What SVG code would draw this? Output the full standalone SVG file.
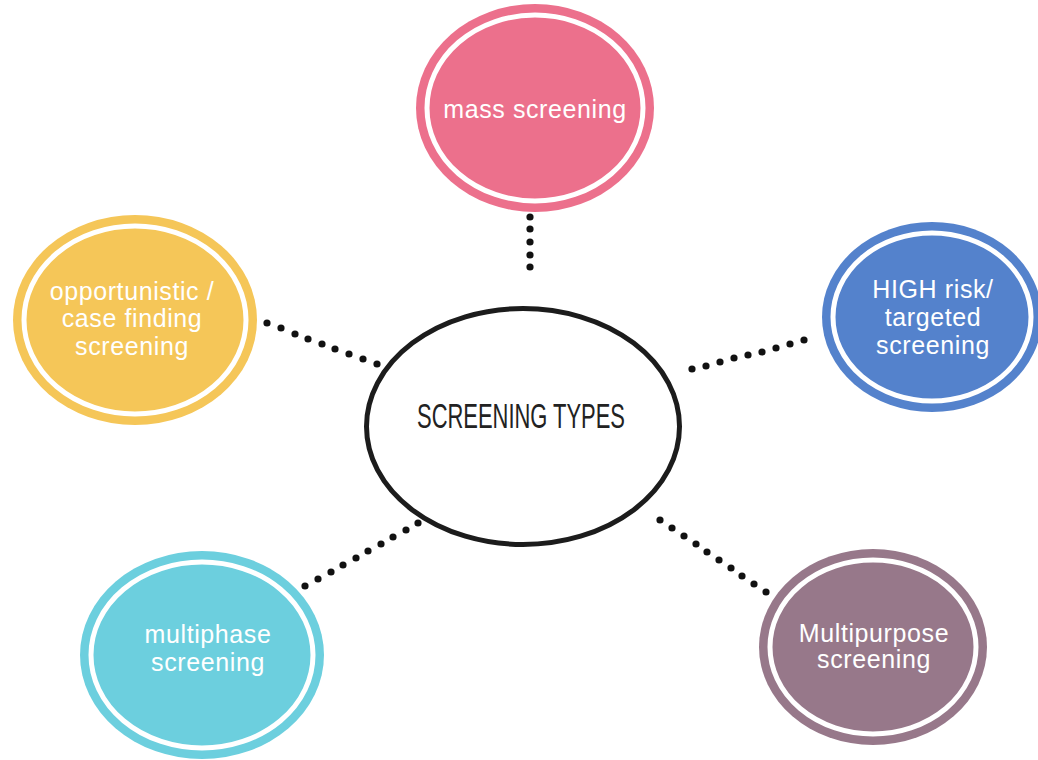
<svg xmlns="http://www.w3.org/2000/svg" width="1038" height="760" viewBox="0 0 1038 760">
  <style>
    .ring { fill: none; stroke: #ffffff; stroke-width: 5; }
    .label { font-family: "Liberation Sans", Arial, sans-serif; font-size: 25px; fill: #ffffff; text-anchor: middle; letter-spacing: 0.6px; }
    .title { font-family: "Liberation Sans", Arial, sans-serif; font-size: 35px; fill: #222222; }
    .dot { fill: #111111; }
  </style>
  <rect width="1038" height="760" fill="#ffffff"/>

  <!-- dotted connectors -->
  <g id="connectors">
    <!-- centre to mass screening -->
    <circle class="dot" cx="530" cy="217" r="3.6"/>
    <circle class="dot" cx="530" cy="229" r="3.6"/>
    <circle class="dot" cx="530" cy="242" r="3.6"/>
    <circle class="dot" cx="530" cy="255" r="3.6"/>
    <circle class="dot" cx="530" cy="267" r="3.6"/>
    <!-- centre to opportunistic -->
    <circle class="dot" cx="267" cy="323" r="3.6"/>
    <circle class="dot" cx="281" cy="328" r="3.6"/>
    <circle class="dot" cx="295" cy="334" r="3.6"/>
    <circle class="dot" cx="308" cy="339" r="3.6"/>
    <circle class="dot" cx="322" cy="344" r="3.6"/>
    <circle class="dot" cx="335" cy="349" r="3.6"/>
    <circle class="dot" cx="349" cy="354" r="3.6"/>
    <circle class="dot" cx="363" cy="359" r="3.6"/>
    <circle class="dot" cx="377" cy="364" r="3.6"/>
    <!-- centre to high risk -->
    <circle class="dot" cx="804" cy="340" r="3.6"/>
    <circle class="dot" cx="790" cy="344" r="3.6"/>
    <circle class="dot" cx="776" cy="348" r="3.6"/>
    <circle class="dot" cx="762" cy="352" r="3.6"/>
    <circle class="dot" cx="748" cy="355" r="3.6"/>
    <circle class="dot" cx="734" cy="358" r="3.6"/>
    <circle class="dot" cx="720" cy="362" r="3.6"/>
    <circle class="dot" cx="706" cy="366" r="3.6"/>
    <circle class="dot" cx="692" cy="369" r="3.6"/>
    <!-- centre to multiphase -->
    <circle class="dot" cx="305" cy="586" r="3.6"/>
    <circle class="dot" cx="318" cy="579" r="3.6"/>
    <circle class="dot" cx="331" cy="572" r="3.6"/>
    <circle class="dot" cx="343" cy="565" r="3.6"/>
    <circle class="dot" cx="356" cy="558" r="3.6"/>
    <circle class="dot" cx="368" cy="551" r="3.6"/>
    <circle class="dot" cx="381" cy="544" r="3.6"/>
    <circle class="dot" cx="393" cy="537" r="3.6"/>
    <circle class="dot" cx="406" cy="530" r="3.6"/>
    <circle class="dot" cx="418" cy="523" r="3.6"/>
    <!-- centre to multipurpose -->
    <circle class="dot" cx="660" cy="520" r="3.6"/>
    <circle class="dot" cx="672" cy="528" r="3.6"/>
    <circle class="dot" cx="684" cy="536" r="3.6"/>
    <circle class="dot" cx="696" cy="544" r="3.6"/>
    <circle class="dot" cx="707" cy="552" r="3.6"/>
    <circle class="dot" cx="719" cy="560" r="3.6"/>
    <circle class="dot" cx="731" cy="568" r="3.6"/>
    <circle class="dot" cx="742" cy="576" r="3.6"/>
    <circle class="dot" cx="754" cy="584" r="3.6"/>
    <circle class="dot" cx="766" cy="592" r="3.6"/>
  </g>

  <!-- central hub -->
  <g id="screening-types">
    <ellipse cx="523" cy="426.5" rx="156.5" ry="118" fill="#ffffff" stroke="#1c1c1c" stroke-width="5"/>
    <text class="title" x="417" y="428" textLength="208" lengthAdjust="spacingAndGlyphs">SCREENING TYPES</text>
  </g>

  <g id="mass-screening">
    <ellipse cx="535" cy="108" rx="119" ry="104" fill="#EC708C"/>
    <ellipse class="ring" cx="535" cy="108" rx="108" ry="93"/>
    <text class="label" x="535" y="118">mass screening</text>
  </g>

  <g id="opportunistic-screening">
    <ellipse cx="135" cy="320" rx="122" ry="105" fill="#F5C658"/>
    <ellipse class="ring" cx="135" cy="320" rx="111" ry="94"/>
    <text class="label" x="132" y="300">opportunistic /</text>
    <text class="label" x="132" y="327">case finding</text>
    <text class="label" x="132" y="355">screening</text>
  </g>

  <g id="high-risk-screening">
    <ellipse cx="932" cy="317" rx="110" ry="95" fill="#5482CC"/>
    <ellipse class="ring" cx="932" cy="317" rx="99" ry="84"/>
    <text class="label" x="933" y="298">HIGH risk/</text>
    <text class="label" x="933" y="326">targeted</text>
    <text class="label" x="933" y="354">screening</text>
  </g>

  <g id="multiphase-screening">
    <ellipse cx="202" cy="655" rx="122" ry="104" fill="#6CCFDE"/>
    <ellipse class="ring" cx="202" cy="655" rx="111" ry="93"/>
    <text class="label" x="208" y="643">multiphase</text>
    <text class="label" x="208" y="671">screening</text>
  </g>

  <g id="multipurpose-screening">
    <ellipse cx="873" cy="647" rx="114" ry="98" fill="#97788A"/>
    <ellipse class="ring" cx="873" cy="647" rx="103" ry="87"/>
    <text class="label" x="874" y="642">Multipurpose</text>
    <text class="label" x="874" y="668">screening</text>
  </g>
</svg>
